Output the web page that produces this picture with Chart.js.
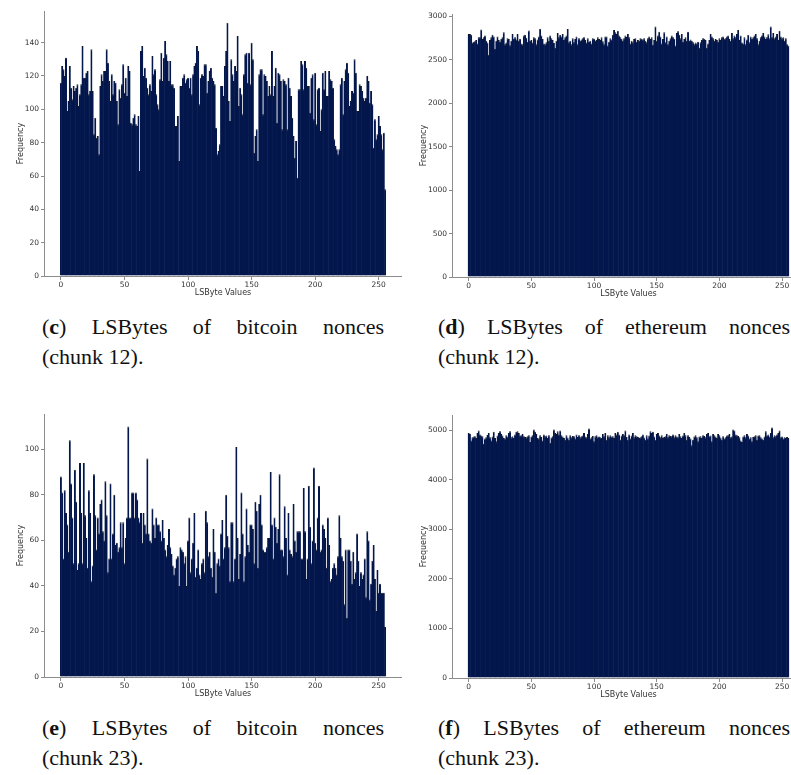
<!DOCTYPE html>
<html>
<head>
<meta charset="utf-8">
<script src="https://cdn.jsdelivr.net/npm/chart.js@4.4.1/dist/chart.umd.min.js"></script>
<style>
  html, body { margin: 0; padding: 0; background: #fff; }
  body { width: 791px; height: 775px; position: relative; overflow: hidden; }
  canvas { position: absolute; }
  .cap { position: absolute; font-family: 'Liberation Serif', serif; font-size: 22px; line-height: 30px; color: #111; white-space: nowrap; }
  .cap.first { text-align: justify; text-align-last: justify; white-space: normal; }
</style>
</head>
<body>
<canvas id="btc12" width="402" height="302" style="left:0;top:0"></canvas>
<canvas id="eth12" width="395" height="303" style="left:410px;top:0"></canvas>
<canvas id="btc23" width="402" height="302" style="left:0;top:401px"></canvas>
<canvas id="eth23" width="395" height="303" style="left:410px;top:401px"></canvas>

<div class="cap first" style="left:42px;top:312px;width:342px">(<b>c</b>) LSBytes of bitcoin nonces</div>
<div class="cap" style="left:42px;top:342px">(chunk 12).</div>
<div class="cap first" style="left:438px;top:312px;width:352px">(<b>d</b>) LSBytes of ethereum nonces</div>
<div class="cap" style="left:438px;top:342px">(chunk 12).</div>
<div class="cap first" style="left:42px;top:713px;width:342px">(<b>e</b>) LSBytes of bitcoin nonces</div>
<div class="cap" style="left:42px;top:743px">(chunk 23).</div>
<div class="cap first" style="left:438px;top:713px;width:352px">(<b>f</b>) LSBytes of ethereum nonces</div>
<div class="cap" style="left:438px;top:743px">(chunk 23).</div>

<script>
// byte values 0..255 on the x axis
const lsbValues = Array.from({ length: 256 }, (_, i) => i);
const xTicks = [0, 50, 100, 150, 200, 250];
const btc12Ticks = [0, 20, 40, 60, 80, 100, 120, 140];
const eth12Ticks = [0, 500, 1000, 1500, 2000, 2500, 3000];
const btc23Ticks = [0, 20, 40, 60, 80, 100];
const eth23Ticks = [0, 1000, 2000, 3000, 4000, 5000];

// frequencies, 16 per row
const btcChunk12 = [
  116,126,124,120,131,99,105,126,113,106,114,111,113,115,102,109,
  115,138,119,119,122,123,109,111,136,111,85,95,83,84,73,114,
  121,117,123,123,136,128,117,105,121,109,117,116,105,91,112,107,
  115,127,110,119,108,126,123,92,91,95,97,91,90,96,63,135,
  138,120,125,119,113,109,115,111,132,121,124,109,103,100,118,134,
  117,131,141,133,129,117,129,115,115,113,90,90,96,69,114,114,
  119,121,116,118,119,113,119,109,121,126,128,138,135,103,119,121,
  120,127,127,110,117,123,125,119,117,115,89,73,75,79,114,114,
  108,126,135,152,105,93,130,121,117,126,123,144,102,113,109,97,
  121,133,134,116,134,115,140,130,74,84,88,69,121,124,124,97,
  121,120,117,108,114,109,135,108,114,125,92,122,121,117,88,118,
  117,115,88,119,113,108,95,84,71,81,59,112,112,129,127,112,
  129,125,114,114,98,119,121,94,122,91,112,113,87,100,122,112,
  123,108,108,123,118,117,113,82,78,76,73,76,115,119,97,117,
  124,128,122,102,105,111,110,130,122,99,99,115,114,111,107,105,
  107,120,117,104,111,103,77,94,82,85,96,90,85,76,86,52
];

const ethChunk12 = [
  2800,2800,2790,2700,2710,2715,2730,2690,2760,2760,2850,2740,2760,2780,2720,2700,
  2560,2730,2760,2790,2770,2630,2720,2770,2730,2710,2745,2760,2820,2680,2700,2750,
  2740,2670,2720,2800,2745,2760,2735,2800,2720,2745,2690,2680,2780,2790,2755,2710,
  2840,2720,2730,2700,2760,2750,2680,2735,2770,2860,2780,2740,2690,2680,2705,2760,
  2720,2780,2750,2730,2695,2640,2720,2810,2760,2790,2770,2800,2730,2760,2780,2855,
  2705,2720,2680,2750,2705,2740,2770,2680,2750,2720,2735,2750,2760,2730,2700,2750,
  2710,2720,2690,2750,2745,2720,2730,2760,2740,2730,2760,2715,2680,2770,2770,2665,
  2710,2750,2735,2790,2845,2820,2800,2835,2780,2760,2745,2720,2750,2780,2765,2800,
  2760,2690,2720,2705,2740,2750,2710,2730,2720,2750,2745,2735,2750,2720,2705,2750,
  2770,2740,2760,2675,2730,2885,2720,2780,2825,2770,2690,2740,2820,2705,2770,2680,
  2720,2750,2780,2760,2745,2665,2810,2830,2790,2750,2800,2710,2740,2760,2720,2825,
  2720,2735,2720,2705,2680,2700,2690,2710,2640,2705,2730,2750,2745,2730,2640,2690,
  2730,2800,2770,2750,2720,2740,2730,2710,2750,2730,2760,2770,2745,2750,2770,2780,
  2740,2720,2810,2750,2780,2760,2800,2845,2730,2780,2700,2690,2760,2680,2735,2790,
  2705,2770,2745,2760,2780,2800,2750,2680,2720,2760,2780,2810,2770,2740,2760,2795,
  2750,2885,2760,2810,2750,2770,2800,2730,2835,2770,2750,2760,2720,2750,2680,2665
];

const btcChunk23 = [
  88,81,52,82,72,67,55,104,85,70,50,91,77,47,50,94,
  72,50,94,71,61,48,82,72,42,49,89,71,56,70,63,76,
  78,64,60,86,71,46,52,85,52,63,80,58,59,55,57,68,
  57,68,50,61,70,110,70,70,81,81,70,81,78,70,68,72,
  59,72,67,63,96,63,60,59,74,67,61,70,67,67,64,60,
  69,61,56,53,58,65,57,54,49,45,48,52,53,40,57,56,
  55,50,53,40,60,70,46,52,59,72,44,48,56,45,43,50,
  52,46,73,68,53,55,48,44,65,55,37,50,52,49,63,69,
  52,57,80,62,57,42,68,68,42,52,101,61,43,54,81,63,
  42,53,74,58,55,67,67,65,50,77,73,48,76,80,67,56,
  55,55,57,61,61,90,67,52,70,66,59,65,89,56,56,53,
  75,61,45,72,56,54,53,76,60,55,64,64,64,52,52,83,
  64,43,52,84,66,50,60,92,59,56,70,84,55,56,67,65,
  61,48,70,58,42,43,48,50,48,45,53,71,61,53,51,32,
  56,26,56,56,51,41,55,43,46,63,51,40,46,43,45,52,
  35,64,60,34,41,51,58,43,29,47,37,41,37,37,37,22
];

const ethChunk23 = [
  4950,4930,4800,4865,4880,4885,4850,4950,5000,4920,4900,4885,4730,4840,4865,4910,
  4950,4865,4800,4880,4975,4850,4785,4900,4950,4985,4930,4900,4850,4840,4905,4880,
  4950,4985,4865,4885,4850,4920,4975,4985,4950,4900,4905,4930,4885,4870,4865,4885,
  4905,4770,4880,4905,5020,4975,4930,4850,4840,4905,4870,4800,4920,4885,4900,4850,
  4905,4750,4860,4885,5020,4950,4930,4985,4920,5000,4905,4880,4850,4815,4905,4860,
  4815,4905,4865,4890,4885,4840,4920,4870,4905,4865,4885,4900,4950,4880,4865,4930,
  5040,4840,4865,4890,4785,4885,4905,4865,4880,4865,4850,4930,4885,4950,4815,4905,
  4865,4905,4880,4885,4850,4950,4920,4975,4920,4815,4900,4930,4905,5000,4870,4815,
  4920,4840,4900,4950,4865,4905,4885,4870,4850,4865,4885,4920,4860,4815,4905,4840,
  4900,4985,4950,4975,4880,4815,4930,4950,4900,4865,4905,4850,4870,4885,4930,4865,
  4905,4890,4885,4920,4865,4905,4880,4865,4930,4885,4850,4900,4950,4905,4815,4905,
  4870,4840,4700,4815,4880,4905,4865,4785,4880,4885,4850,4905,4890,4865,4930,4950,
  4885,4900,4785,4930,4905,4880,4850,4930,4905,4860,4815,4885,4840,4865,4900,4905,
  4930,4865,4880,5020,5000,4920,4905,4890,4865,4800,4770,4880,4905,4865,4930,4900,
  4840,4865,4785,4870,4885,4905,4815,4900,4905,4865,4840,4815,4880,4985,4900,4920,
  4880,4950,5060,4865,4905,4885,4920,4950,5000,4865,4880,4840,4865,4850,4870,4850
];

const BAR_FILL = '#03174d';
const BAR_EDGE = '#15181f';
const AXIS_GREY = '#8c8c8c';
const LABEL_COLOR = '#333333';
const FONT = { family: 'DejaVu Sans', size: 8 };
const TICK_FONT = { family: 'DejaVu Sans', size: 7.5 };

function histogram(id, values, yMax, yTicks, axisWidth, padTop, titleOffset) {
  const ctx = document.getElementById(id).getContext('2d');
  return new Chart(ctx, {
    type: 'bar',
    data: {
      labels: lsbValues,
      datasets: [{
        data: values,
        backgroundColor: BAR_FILL,
        borderColor: BAR_EDGE,
        borderWidth: { top: 1, right: 0, bottom: 0, left: 0 },
        barPercentage: 1.6,
        categoryPercentage: 1
      }]
    },
    options: {
      responsive: false,
      animation: false,
      events: [],
      layout: { padding: { top: padTop, right: 0, bottom: 0, left: 0 } },
      plugins: { legend: { display: false }, tooltip: { enabled: false } },
      scales: {
        x: {
          type: 'linear',
          min: -13.3,
          max: 268.3,
          offset: false,
          afterFit: (s) => { s.height = 26; },
          afterBuildTicks: (s) => { s.ticks = xTicks.map(v => ({ value: v })); },
          ticks: { font: TICK_FONT, color: LABEL_COLOR, padding: 1, maxRotation: 0, autoSkip: false, callback: (v) => String(v) },
          grid: { drawOnChartArea: false, offset: false, tickLength: 4, color: AXIS_GREY },
          border: { color: AXIS_GREY },
          title: { display: true, text: 'LSByte Values', font: FONT, color: LABEL_COLOR, padding: { top: 0, bottom: 4 } }
        },
        y: {
          min: 0,
          max: yMax,
          afterFit: (s) => { s.width = axisWidth; },
          afterBuildTicks: (s) => { s.ticks = yTicks.map(v => ({ value: v })); },
          ticks: { font: TICK_FONT, color: LABEL_COLOR, padding: 2, autoSkip: false, callback: (v) => String(v) },
          grid: { drawOnChartArea: false, tickLength: 3, color: AXIS_GREY },
          border: { color: AXIS_GREY },
          title: { display: true, text: 'Frequency', font: FONT, color: LABEL_COLOR, padding: { top: titleOffset, bottom: 0 } }
        }
      }
    }
  });
}

histogram('btc12', btcChunk12, 159, btc12Ticks, 44, 11, 16);
histogram('eth12', ethChunk12, 3029, eth12Ticks, 42, 14, 9);
histogram('btc23', btcChunk23, 115.5, btc23Ticks, 44, 13, 16);
histogram('eth23', ethChunk23, 5313, eth23Ticks, 42, 14, 9);
</script>
</body>
</html>
